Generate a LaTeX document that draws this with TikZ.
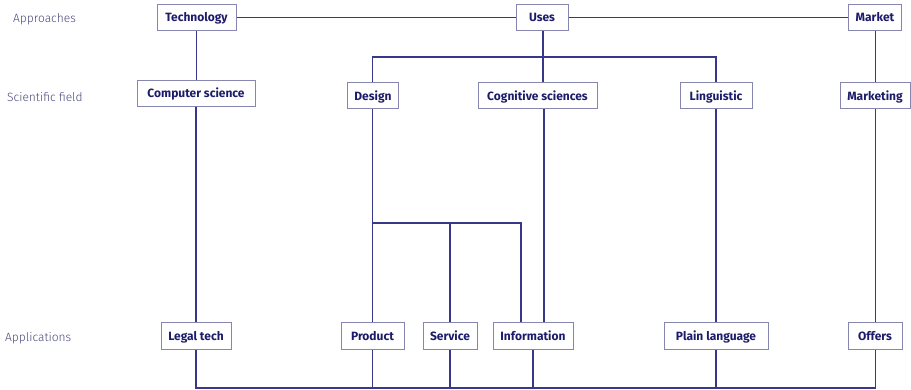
\documentclass[tikz,border=0pt]{standalone}
\usepackage{fontspec}
\setmainfont{Fira Sans}
\IfFontExistsTF{Fira Sans Light}{\newfontfamily\lightfont{Fira Sans Light}}{\newfontfamily\lightfont{Fira Sans}}
\definecolor{navy}{HTML}{1C1C6A}
\definecolor{linec}{HTML}{38388A}
\definecolor{boxc}{HTML}{8686B0}
\definecolor{labc}{HTML}{48487A}
\tikzset{
  box/.style={draw=boxc, line width=1pt, fill=white, text=navy, font=\fontsize{12}{14}\selectfont\bfseries,
    minimum height=26pt, inner sep=0pt, text height=1.0em, text depth=0.1em, anchor=center},
  conn/.style={draw=linec, line width=1.3pt},
  lab/.style={text=labc, font=\fontsize{12}{14}\selectfont\lightfont, anchor=west, inner sep=0pt,
    text height=1.0em, text depth=0.1em}
}
\begin{document}
\begin{tikzpicture}[x=1pt,y=-1pt]
\useasboundingbox (0,0) rectangle (911,390);
% left labels
\node[lab] (l1) at (13,18) {Approaches};
\node[lab] (l2) at (7,97) {Scientific field};
\node[lab] (l3) at (5,337) {Applications};
% top row
\node[box, minimum width=79pt] (tech) at (196.5,17.5) {Technology};
\node[box, minimum width=52pt] (uses) at (542,17.5) {Uses};
\node[box, minimum width=53pt] (market) at (875,17.5) {Market};
% middle row
\node[box, minimum width=118pt] (cs) at (196,93.5) {Computer science};
\node[box, minimum width=51pt] (design) at (373,96) {Design};
\node[box, minimum width=119pt] (cog) at (537.5,96) {Cognitive sciences};
\node[box, minimum width=72pt] (ling) at (716,96) {Linguistic};
\node[box, minimum width=70pt] (mkt) at (875,96) {Marketing};
% bottom row
\node[box, minimum width=70pt] (legal) at (196,336) {Legal tech};
\node[box, minimum width=63pt] (product) at (372.5,336) {Product};
\node[box, minimum width=54pt] (service) at (450,336) {Service};
\node[box, minimum width=80pt] (info) at (533,336) {Information};
\node[box, minimum width=104pt] (plain) at (716,336) {Plain language};
\node[box, minimum width=54pt] (offers) at (875,336) {Offers};
% helper coordinates
\coordinate (hubD) at (372.5,57);
\coordinate (hubL) at (716,57);
\coordinate (split1) at (372.5,223);
\coordinate (split2) at (450,223);
\coordinate (split3) at (521,223);
\coordinate (bL) at (196,388);
\coordinate (bR) at (875.5,388);
% connectors
\draw[conn] (tech.east) -- (uses.west);
\draw[conn] (uses.east) -- (market.west);
\draw[conn] (tech.south) -- (cs.north -| tech.south);
\draw[conn] (uses.south -| 543,0) -- (cog.north -| 543,0);
\draw[conn] (design.north -| hubD) -- (hubD) -- (hubL) -- (ling.north);
\draw[conn] (market.south -| 875.5,0) -- (mkt.north -| 875.5,0);
\draw[conn] (cs.south) -- (legal.north);
\draw[conn] (design.south -| hubD) -- (product.north);
\draw[conn] (split1) -- (split3) -- (info.north -| split3);
\draw[conn] (split2) -- (service.north);
\draw[conn] (cog.south -| 544,0) -- (info.north -| 544,0);
\draw[conn] (ling.south) -- (plain.north);
\draw[conn] (mkt.south -| 875.5,0) -- (offers.north -| 875.5,0);
\draw[conn] (legal.south) -- (bL) -- (bR) -- (offers.south -| bR);
\draw[conn] (product.south) -- (product.south |- bL);
\draw[conn] (service.south) -- (service.south |- bL);
\draw[conn] (info.south) -- (info.south |- bL);
\draw[conn] (plain.south) -- (plain.south |- bL);
\end{tikzpicture}
\end{document}
